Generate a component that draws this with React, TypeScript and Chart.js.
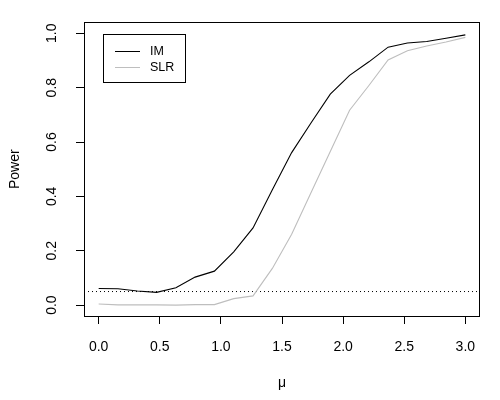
import { useEffect, useRef } from "react";
import { Chart, registerables } from "chart.js";

Chart.register(...registerables);

const muValues = [0, 0.158, 0.316, 0.474, 0.632, 0.789, 0.947, 1.105, 1.263, 1.421, 1.579, 1.737, 1.895, 2.053, 2.211, 2.368, 2.526, 2.684, 2.842, 3.0];
const imPower = [0.061, 0.060, 0.052, 0.047, 0.064, 0.103, 0.125, 0.196, 0.284, 0.424, 0.561, 0.670, 0.776, 0.845, 0.895, 0.949, 0.964, 0.970, 0.982, 0.994];
const slrPower = [0.004, 0.001, 0.001, 0.001, 0.000, 0.002, 0.002, 0.024, 0.034, 0.135, 0.261, 0.413, 0.565, 0.717, 0.808, 0.902, 0.936, 0.953, 0.968, 0.985];
const seriesLabels = ["IM", "SLR"];
const seriesColors = ["#000000", "#bebebe"];
const xTicks = [0, 0.5, 1.0, 1.5, 2.0, 2.5, 3.0];
const yTicks = [0, 0.2, 0.4, 0.6, 0.8, 1.0];
const alphaLevel = 0.05;
const xLimits = [-0.12, 3.12];
const yLimits = [-0.04, 1.04];

const FONT = "'Liberation Sans', Arial, Helvetica, sans-serif";

const boxLegendPlugin = {
  id: "boxLegend",
  afterDraw(chart: any) {
    const { ctx, chartArea } = chart;
    ctx.save();
    ctx.strokeStyle = "#000";
    ctx.lineWidth = 1;
    ctx.setLineDash([]);
    ctx.strokeRect(
      Math.round(chartArea.left) + 0.5,
      Math.round(chartArea.top) + 0.5,
      Math.round(chartArea.right - chartArea.left) - 1,
      Math.round(chartArea.bottom - chartArea.top)
    );
    // legend
    const lx = 103.5, ly = 34.5, lw = 82, lh = 48;
    ctx.strokeRect(lx, ly, lw, lh);
    ctx.font = `12.5px ${FONT}`;
    ctx.textBaseline = "middle";
    ctx.textAlign = "left";
    seriesLabels.forEach((lab, i) => {
      const y = 51 + i * 16;
      ctx.strokeStyle = seriesColors[i];
      ctx.beginPath();
      ctx.moveTo(115, y + 0.5);
      ctx.lineTo(140, y + 0.5);
      ctx.stroke();
      ctx.fillStyle = "#000";
      ctx.fillText(lab, 150, y + 1);
    });
    ctx.restore();
  },
};

export default function App() {
  const ref = useRef<HTMLCanvasElement>(null);
  useEffect(() => {
    const chart = new Chart(ref.current as HTMLCanvasElement, {
      type: "line",
      data: {
        datasets: [
          {
            label: seriesLabels[0],
            data: muValues.map((x, i) => ({ x, y: imPower[i] })),
            borderColor: seriesColors[0],
            borderWidth: 1.1,
            pointRadius: 0,
            tension: 0,
            fill: false,
          },
          {
            label: seriesLabels[1],
            data: muValues.map((x, i) => ({ x, y: slrPower[i] })),
            borderColor: seriesColors[1],
            borderWidth: 1.1,
            pointRadius: 0,
            tension: 0,
            fill: false,
          },
          {
            label: "alpha",
            data: [
              { x: xLimits[0], y: alphaLevel },
              { x: xLimits[1], y: alphaLevel },
            ],
            borderColor: "#000",
            borderWidth: 1,
            borderDash: [1, 3],
            pointRadius: 0,
            fill: false,
          },
        ],
      },
      options: {
        responsive: false,
        animation: false,
        events: [],
        layout: { padding: { left: 0, top: 20, right: 20, bottom: 0 } },
        plugins: { legend: { display: false }, tooltip: { enabled: false } },
        scales: {
          x: {
            type: "linear",
            min: xLimits[0],
            max: xLimits[1],
            afterBuildTicks: (s: any) => {
              s.ticks = xTicks.map((v) => ({ value: v }));
            },
            afterFit: (s: any) => {
              s.height = 84;
            },
            grid: { drawOnChartArea: false, drawTicks: true, tickLength: 8, color: "#000", lineWidth: 1 },
            border: { display: false },
            ticks: {
              color: "#000",
              font: { family: FONT, size: 14 },
              padding: 15,
              maxRotation: 0,
              minRotation: 0,
              autoSkip: false,
              callback: (v: any) => Number(v).toFixed(1),
            },
            title: {
              display: true,
              text: "μ",
              color: "#000",
              font: { family: FONT, size: 14 },
              padding: { top: 0, bottom: 8 },
            },
          },
          y: {
            type: "linear",
            min: yLimits[0],
            max: yLimits[1],
            afterBuildTicks: (s: any) => {
              s.ticks = yTicks.map((v) => ({ value: v }));
            },
            afterFit: (s: any) => {
              s.width = 84;
            },
            grid: { drawOnChartArea: false, drawTicks: true, tickLength: 8, color: "#000", lineWidth: 1 },
            border: { display: false },
            ticks: {
              color: "#000",
              font: { family: FONT, size: 14 },
              padding: 14,
              minRotation: 90,
              maxRotation: 90,
              crossAlign: "center",
              autoSkip: false,
              callback: (v: any) => Number(v).toFixed(1),
            },
            title: {
              display: true,
              text: "Power",
              color: "#000",
              font: { family: FONT, size: 14 },
              padding: { top: 7, bottom: 0 },
            },
          },
        },
      },
      plugins: [boxLegendPlugin],
    });
    return () => chart.destroy();
  }, []);
  return (
    <div style={{ position: "absolute", left: 0, top: 0, width: 500, height: 400, background: "#fff" }}>
      <canvas ref={ref} width={500} height={400} />
    </div>
  );
}
